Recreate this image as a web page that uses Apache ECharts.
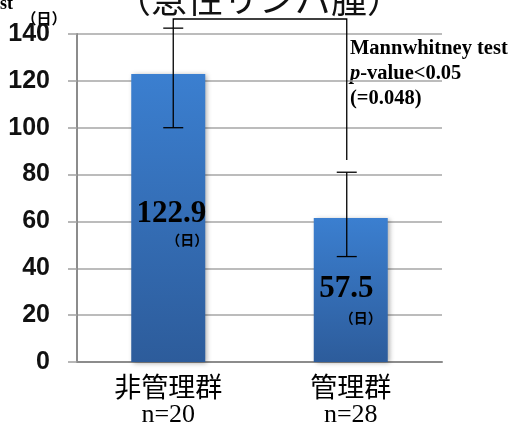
<!DOCTYPE html>
<html>
<head>
<meta charset="utf-8">
<script src="https://cdn.jsdelivr.net/npm/echarts@6/dist/echarts.min.js"></script>
<style>
html,body{margin:0;padding:0;background:#fff;}
#c{width:515px;height:429px;}
</style>
</head>
<body>
<div id="c"></div>
<script>
// ---- data ----
const categories = ['非管理群', '管理群'];
const nLabels = ['n=20', 'n=28'];
const barValues = [122.9, 61.5];
const errLow = [100, 45];
const errHigh = [142.5, 81];
const valueLabels = ['122.9', '57.5'];
const valueLabelPos = [63, 31];
const unitLabelPos = [52, 19];
const bracketTop = 146.4;
const bracketRightBottom = 86.2;
const yMin = 0, yMax = 140, yInterval = 20;

// ---- styling (pixel offsets) ----
const errOffsetPx = [5, -4];
const numOffsetPx = [3, -4.5];
const unitOffsetPx = [19, 10];

const chart = echarts.init(document.getElementById('c'), null, {renderer: 'canvas'});

const serif = '"Liberation Serif", "Times New Roman", serif';
const cjk = '"Noto Sans CJK JP", sans-serif';

const option = {
  animation: false,
  backgroundColor: '#ffffff',
  grid: {left: 77, right: 73, top: 34, bottom: 67, containLabel: false},
  xAxis: {
    type: 'category',
    data: categories,
    axisLine: {show: true, lineStyle: {color: '#8c8c8c', width: 2}},
    axisTick: {show: false},
    axisLabel: {
      margin: 10,
      interval: 0,
      formatter: function (v, i) { return '{a|' + v + '}\n{b|' + nLabels[i] + '}'; },
      rich: {
        a: {fontFamily: cjk, fontSize: 27, color: '#000', lineHeight: 29},
        b: {fontFamily: serif, fontSize: 26, color: '#000', lineHeight: 29}
      }
    }
  },
  yAxis: {
    type: 'value',
    min: yMin, max: yMax, interval: yInterval,
    axisLine: {show: true, lineStyle: {color: '#8c8c8c', width: 2}},
    axisTick: {show: true, length: 9, lineStyle: {color: '#a0a0a0', width: 1.5}},
    splitLine: {show: true, lineStyle: {color: '#a6a6a6', width: 1.5}},
    axisLabel: {
      margin: 27,
      fontFamily: '"Liberation Sans", Arial, sans-serif',
      fontWeight: 'bold',
      fontSize: 25,
      color: '#111'
    }
  },
  series: [
    {
      type: 'bar',
      data: barValues,
      barWidth: 74,
      itemStyle: {
        color: new echarts.graphic.LinearGradient(0, 0, 0, 1, [
          {offset: 0, color: '#3b7fd0'},
          {offset: 1, color: '#2d5c9b'}
        ]),
        shadowColor: 'rgba(0,0,0,0.35)',
        shadowBlur: 5,
        shadowOffsetX: 2,
        shadowOffsetY: 1
      },
      z: 2
    },
    {
      type: 'custom',
      clip: false,
      z: 5,
      data: categories.map((c, i) => [i, errLow[i], errHigh[i]]),
      renderItem: function (params, api) {
        const i = api.value(0);
        const lo = api.coord([i, api.value(1)]);
        const hi = api.coord([i, api.value(2)]);
        const x = lo[0] + errOffsetPx[i];
        const cap = 10;
        const st = {stroke: '#000', lineWidth: 1.3};
        return {
          type: 'group',
          children: [
            {type: 'line', shape: {x1: x, y1: lo[1], x2: x, y2: hi[1]}, style: st},
            {type: 'line', shape: {x1: x - cap, y1: lo[1], x2: x + cap, y2: lo[1]}, style: st},
            {type: 'line', shape: {x1: x - cap, y1: hi[1], x2: x + cap, y2: hi[1]}, style: st}
          ]
        };
      }
    },
    {
      type: 'custom',
      clip: false,
      z: 5,
      data: [[0, 1]],
      renderItem: function (params, api) {
        const pL = api.coord([0, bracketTop]);
        const pLb = api.coord([0, errHigh[0]]);
        const pR = api.coord([1, bracketTop]);
        const pRb = api.coord([1, bracketRightBottom]);
        const xl = pL[0] + errOffsetPx[0];
        const xr = pR[0] + errOffsetPx[1];
        return {
          type: 'polyline',
          shape: {points: [[xl, pLb[1]], [xl, pL[1]], [xr, pR[1]], [xr, pRb[1]]]},
          style: {stroke: '#000', lineWidth: 1.3, fill: null}
        };
      }
    },
    {
      type: 'custom',
      clip: false,
      z: 6,
      data: categories.map((c, i) => [i, valueLabelPos[i], unitLabelPos[i]]),
      renderItem: function (params, api) {
        const i = api.value(0);
        const pn = api.coord([i, api.value(1)]);
        const pu = api.coord([i, api.value(2)]);
        return {
          type: 'group',
          children: [
            {type: 'text', x: pn[0] + numOffsetPx[i], y: pn[1],
              style: {text: valueLabels[i], fontFamily: serif, fontWeight: 'bold', fontSize: 31,
                fill: '#000', align: 'center', verticalAlign: 'middle'}},
            {type: 'text', x: pu[0] + unitOffsetPx[i], y: pu[1],
              style: {text: '（日）', fontFamily: cjk, fontWeight: 'bold', fontSize: 14,
                fill: '#000', align: 'center', verticalAlign: 'middle'}}
          ]
        };
      }
    }
  ],
  graphic: [
    {type: 'text', x: 259, y: -1,
      style: {text: '（急性リンパ腫）', fontFamily: cjk, fontSize: 36, fill: '#111',
        align: 'center', verticalAlign: 'middle'}},
    {type: 'text', x: 0, y: 4,
      style: {text: 'st', fontFamily: serif, fontWeight: 'bold', fontSize: 18, fill: '#000',
        align: 'left', verticalAlign: 'middle'}},
    {type: 'text', x: 44, y: 18,
      style: {text: '（日）', fontFamily: cjk, fontWeight: 'bold', fontSize: 15, fill: '#000',
        align: 'center', verticalAlign: 'middle'}},
    {type: 'text', x: 350, y: 36,
      style: {
        text: '{b|Mannwhitney test}\n{i|p}{b|-value<0.05}\n{b|(=0.048)}',
        verticalAlign: 'top', align: 'left',
        rich: {
          b: {fontFamily: serif, fontWeight: 'bold', fontSize: 20.5, fill: '#000', lineHeight: 25},
          i: {fontFamily: serif, fontWeight: 'bold', fontStyle: 'italic', fontSize: 20.5, fill: '#000', lineHeight: 25}
        }
      }}
  ]
};
chart.setOption(option);
</script>
</body>
</html>
